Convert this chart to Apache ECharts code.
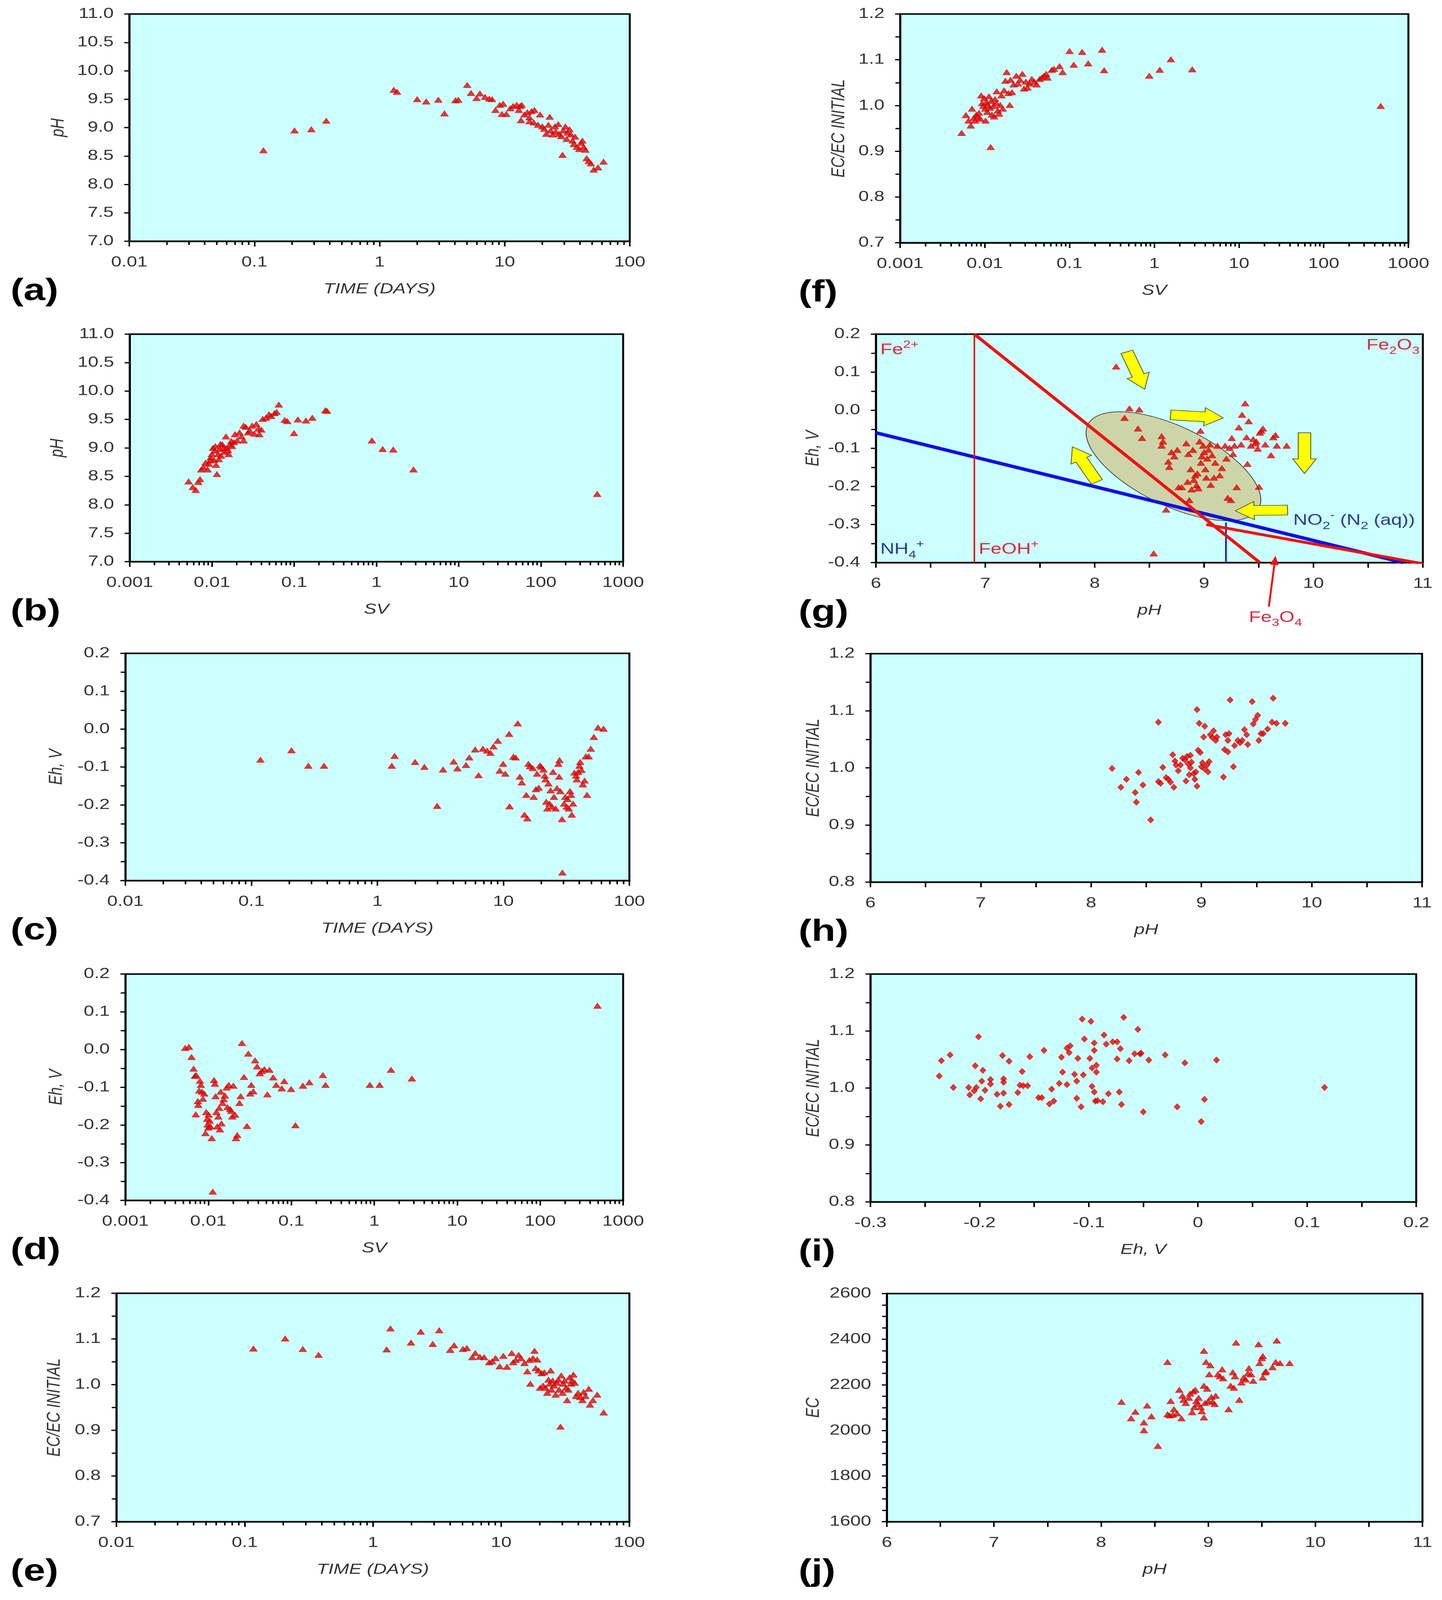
<!DOCTYPE html>
<html><head><meta charset="utf-8">
<script src="https://cdn.jsdelivr.net/npm/echarts@6/dist/echarts.min.js"></script>
<style>html,body{margin:0;padding:0;background:#fff;overflow:hidden}#c{width:3691px;height:5253px;transform-origin:0 0}</style>
</head><body><div id="c"></div>
<script>
// ---------------- DATA ----------------
// (a) time (days) vs pH
const ptsA = [[0.118,8.60],[0.209,8.95],[0.285,8.97],[0.375,9.12],[1.30,9.665],[1.38,9.63],[2.00,9.50],[2.36,9.46],[2.95,9.49],[3.30,9.25],[4.04,9.48],[4.26,9.49],[5.02,9.75],[5.38,9.61],[5.96,9.52],[6.34,9.60],[6.97,9.54],[7.53,9.51],[7.94,9.50],[8.45,9.31],[9.14,9.40],[9.73,9.42],[9.51,9.24],[10.3,9.24],[11.1,9.34],[11.7,9.38],[12.5,9.40],[13.3,9.38],[13.7,9.40],[13.0,9.31],[13.5,9.13],[14.4,9.23],[15.2,9.27],[15.8,9.18],[16.4,9.29],[17.3,9.31],[15.8,9.11],[17.1,9.09],[18.5,9.05],[19.2,9.23],[20.0,9.02],[20.7,8.98],[21.5,8.89],[22.9,9.19],[22.4,9.05],[23.3,8.95],[24.2,8.88],[25.2,9.02],[25.6,8.93],[26.8,9.06],[27.2,8.89],[28.3,8.85],[29.0,8.52],[29.4,8.95],[30.6,9.02],[31.3,8.80],[31.8,8.91],[33.0,8.97],[33.9,8.88],[34.9,8.77],[35.7,8.71],[36.6,8.84],[37.8,8.66],[39.5,8.62],[40.8,8.73],[41.8,8.77],[42.8,8.66],[44.2,8.61],[45.2,8.46],[47.0,8.41],[48.9,8.37],[51.5,8.26],[55.7,8.30],[61.7,8.40]];
// (b) SV vs pH
const ptsB = [[0.0052,8.41],[0.00585,8.31],[0.00635,8.26],[0.00682,8.40],[0.00716,8.45],[0.00742,8.62],[0.00787,8.66],[0.00835,8.74],[0.00885,8.62],[0.00918,8.72],[0.00964,8.83],[0.00998,8.89],[0.0103,9.00],[0.0106,8.79],[0.0110,9.03],[0.0115,8.54],[0.0119,8.89],[0.0124,8.98],[0.0129,8.86],[0.0134,9.06],[0.0142,8.93],[0.0148,9.20],[0.0151,9.00],[0.0160,8.89],[0.0166,9.06],[0.0176,9.03],[0.0185,9.10],[0.0191,9.24],[0.0203,9.13],[0.0216,9.27],[0.0229,9.20],[0.0243,9.13],[0.0243,9.39],[0.0258,9.37],[0.0274,9.27],[0.0290,9.30],[0.0308,9.39],[0.0327,9.25],[0.0347,9.42],[0.0367,9.34],[0.0377,9.24],[0.0399,9.32],[0.0414,9.51],[0.0455,9.53],[0.0494,9.59],[0.0525,9.56],[0.0577,9.61],[0.0612,9.63],[0.0650,9.76],[0.0767,9.49],[0.0824,9.47],[0.0995,9.26],[0.111,9.50],[0.139,9.48],[0.166,9.53],[0.239,9.66],[0.251,9.65],[0.881,9.13],[1.19,8.98],[1.60,8.97],[2.82,8.62],[484,8.19],[0.0095,8.78],[0.0108,8.95],[0.0121,8.80],[0.0138,9.00],[0.0157,8.96],[0.0172,9.12],[0.0112,8.70],[0.0127,9.07]];
// (c) time vs Eh
const ptsC = [[0.118,-0.081],[0.208,-0.056],[0.283,-0.097],[0.377,-0.097],[1.30,-0.097],[1.37,-0.071],[1.99,-0.087],[2.36,-0.100],[2.98,-0.203],[3.32,-0.107],[4.03,-0.086],[4.32,-0.104],[5.05,-0.095],[5.36,-0.075],[5.97,-0.054],[6.35,-0.122],[6.87,-0.052],[7.43,-0.057],[7.89,-0.063],[8.34,-0.046],[9.02,-0.031],[9.35,-0.110],[9.95,-0.092],[10.35,-0.118],[11.1,-0.013],[11.2,-0.204],[12.0,-0.073],[12.5,-0.075],[13.0,0.015],[13.5,-0.126],[14.0,-0.141],[14.7,-0.226],[15.2,-0.174],[15.5,-0.236],[15.8,-0.092],[16.3,-0.098],[17.1,-0.103],[17.4,-0.179],[18.1,-0.159],[18.5,-0.118],[19.1,-0.155],[19.5,-0.096],[20.0,-0.100],[20.8,-0.107],[21.3,-0.123],[21.6,-0.133],[21.9,-0.192],[22.3,-0.210],[22.8,-0.144],[23.3,-0.197],[23.7,-0.162],[24.3,-0.205],[24.8,-0.113],[25.2,-0.179],[26.0,-0.210],[26.6,-0.156],[27.3,-0.092],[27.7,-0.126],[27.9,-0.082],[28.3,-0.164],[29.2,-0.238],[29.4,-0.379],[30.3,-0.197],[31.0,-0.179],[31.8,-0.205],[32.3,-0.185],[33.0,-0.210],[33.8,-0.164],[34.4,-0.174],[34.9,-0.226],[35.7,-0.197],[36.6,-0.115],[37.7,-0.123],[38.3,-0.133],[39.2,-0.113],[40.1,-0.097],[40.7,-0.087],[41.7,-0.108],[42.7,-0.146],[44.1,-0.136],[45.1,-0.072],[46.1,-0.174],[47.5,-0.072],[49.4,-0.052],[52.2,-0.021],[56.4,0.004],[62.4,0.001]];
// (d) SV vs Eh
const ptsD = [[0.00525,0.004],[0.00583,0.007],[0.00627,-0.020],[0.00664,-0.051],[0.00689,-0.070],[0.00713,-0.068],[0.00705,-0.172],[0.00746,-0.137],[0.00755,-0.147],[0.00774,-0.109],[0.00793,-0.083],[0.00811,-0.094],[0.00839,-0.112],[0.00861,-0.131],[0.00891,-0.117],[0.00923,-0.222],[0.00944,-0.166],[0.00968,-0.184],[0.00979,-0.199],[0.0100,-0.207],[0.0101,-0.173],[0.0104,-0.189],[0.0106,-0.204],[0.0110,-0.235],[0.0113,-0.377],[0.0117,-0.081],[0.0120,-0.091],[0.0122,-0.124],[0.0125,-0.166],[0.0128,-0.204],[0.0132,-0.178],[0.0135,-0.155],[0.0138,-0.212],[0.0141,-0.112],[0.0144,-0.196],[0.0148,-0.142],[0.0153,-0.132],[0.0158,-0.122],[0.0166,-0.101],[0.0170,-0.153],[0.0176,-0.094],[0.0183,-0.158],[0.0189,-0.163],[0.0194,-0.178],[0.0200,-0.096],[0.0210,-0.173],[0.0215,-0.235],[0.0223,-0.227],[0.0237,-0.142],[0.0245,-0.124],[0.0254,0.017],[0.0269,-0.073],[0.0292,-0.203],[0.0303,-0.011],[0.0318,-0.117],[0.0329,-0.094],[0.0348,-0.111],[0.0366,-0.029],[0.0387,-0.045],[0.0416,-0.063],[0.0442,-0.057],[0.0473,-0.052],[0.0514,-0.119],[0.0544,-0.054],[0.0605,-0.074],[0.0658,-0.094],[0.0767,-0.103],[0.0822,-0.084],[0.0993,-0.105],[0.112,-0.201],[0.138,-0.096],[0.165,-0.087],[0.240,-0.068],[0.258,-0.094],[0.885,-0.094],[1.16,-0.094],[1.59,-0.054],[2.84,-0.077],[490,0.116]];
// (e) time vs EC/EC initial
const ptsE = [[0.117,1.079],[0.207,1.101],[0.284,1.078],[0.377,1.065],[1.28,1.077],[1.37,1.123],[1.98,1.092],[2.36,1.116],[2.93,1.089],[3.29,1.119],[4.01,1.076],[4.30,1.086],[5.04,1.078],[5.40,1.080],[5.96,1.060],[6.28,1.069],[6.82,1.061],[7.36,1.060],[8.07,1.049],[8.51,1.051],[9.04,1.058],[9.75,1.040],[10.4,1.063],[11.1,1.039],[12.1,1.069],[12.4,1.049],[13.0,1.054],[13.7,1.065],[14.3,1.058],[15.2,1.047],[16.0,1.029],[16.6,1.054],[16.9,1.002],[17.7,1.058],[18.2,1.074],[18.6,1.036],[19.1,1.055],[19.6,1.031],[20.1,0.993],[20.7,1.025],[21.2,0.998],[21.7,1.027],[22.2,0.993],[22.9,0.982],[23.4,1.011],[23.9,1.002],[24.3,1.031],[24.7,0.989],[25.2,1.009],[25.8,0.998],[26.6,0.978],[27.2,1.004],[27.9,1.011],[28.3,0.989],[29.0,0.908],[29.4,1.020],[30.1,0.982],[30.5,1.002],[31.3,1.009],[32.0,0.993],[32.7,0.966],[33.4,0.989],[34.2,1.016],[35.0,1.002],[35.8,1.009],[36.6,1.022],[37.5,1.004],[38.4,0.975],[39.8,0.982],[41.4,0.973],[43.0,0.966],[44.0,0.984],[45.4,0.975],[48.2,0.991],[49.3,0.956],[52.0,0.966],[56.1,0.978],[63.0,0.939]];
// (f) SV vs EC/EC initial
const ptsF = [[0.00532,0.940],[0.00598,0.979],[0.00643,0.967],[0.00682,0.956],[0.00706,0.993],[0.00741,0.973],[0.00767,0.967],[0.00794,0.980],[0.00824,0.976],[0.00853,0.984],[0.00883,0.971],[0.00906,1.022],[0.00927,1.005],[0.00959,0.999],[0.00982,1.016],[0.0101,0.993],[0.0102,0.967],[0.0104,1.007],[0.0107,0.986],[0.0109,1.001],[0.0112,1.020],[0.0115,0.995],[0.0117,0.909],[0.0119,1.010],[0.0121,0.980],[0.0126,0.999],[0.0129,0.976],[0.0132,1.014],[0.0137,1.005],[0.0138,1.031],[0.0142,0.989],[0.0147,0.982],[0.0152,1.001],[0.0157,1.022],[0.0163,0.993],[0.0169,1.033],[0.0175,1.054],[0.0181,1.073],[0.0190,1.027],[0.0197,1.001],[0.0201,1.056],[0.0209,1.029],[0.0219,1.046],[0.0235,1.065],[0.0246,1.048],[0.0261,1.056],[0.0277,1.069],[0.0290,1.037],[0.0305,1.052],[0.0319,1.039],[0.0338,1.048],[0.0359,1.058],[0.0385,1.052],[0.0408,1.046],[0.0444,1.058],[0.0471,1.061],[0.0499,1.065],[0.0530,1.069],[0.0548,1.061],[0.0617,1.078],[0.0655,1.080],[0.0762,1.086],[0.0828,1.073],[0.100,1.119],[0.112,1.089],[0.141,1.117],[0.166,1.092],[0.242,1.122],[0.256,1.077],[0.873,1.065],[1.16,1.078],[1.57,1.101],[2.81,1.079],[471,0.999]];
// (g) pH vs Eh
const ptsG = [[8.196,0.115],[8.318,0.005],[8.408,0.002],[8.273,-0.020],[8.396,-0.048],[8.433,-0.073],[8.539,-0.376],[8.612,-0.068],[8.624,-0.082],[8.612,-0.093],[8.653,-0.261],[8.673,-0.135],[8.682,-0.149],[8.702,-0.110],[8.727,-0.121],[8.755,-0.104],[8.767,-0.202],[8.796,-0.202],[8.837,-0.087],[8.849,-0.188],[8.857,-0.115],[8.865,-0.236],[8.878,-0.155],[8.886,-0.208],[8.898,-0.104],[8.906,-0.183],[8.918,-0.171],[8.931,-0.197],[8.939,-0.166],[8.947,-0.205],[8.959,-0.082],[8.967,-0.054],[8.971,-0.138],[8.980,-0.121],[8.992,-0.093],[9.000,-0.110],[9.012,-0.155],[9.020,-0.177],[9.029,-0.127],[9.041,-0.104],[9.053,-0.090],[9.061,-0.196],[9.073,-0.118],[9.090,-0.177],[9.102,-0.138],[9.122,-0.093],[9.143,-0.171],[9.163,-0.152],[9.192,-0.093],[9.204,-0.127],[9.216,-0.230],[9.233,-0.099],[9.245,-0.236],[9.253,-0.073],[9.265,-0.115],[9.278,-0.093],[9.298,-0.202],[9.318,-0.045],[9.339,-0.090],[9.347,-0.012],[9.376,0.018],[9.388,-0.071],[9.396,-0.141],[9.408,-0.029],[9.429,-0.093],[9.449,-0.076],[9.469,-0.087],[9.478,-0.082],[9.490,-0.101],[9.502,-0.201],[9.510,-0.059],[9.522,-0.054],[9.539,-0.048],[9.559,-0.090],[9.612,-0.118],[9.633,-0.071],[9.653,-0.065],[9.665,-0.093],[9.755,-0.093]];
// (g) stability-field boundaries
const redVertG = [[6.9,0.2],[6.9,-0.4]];
const redDiagG = [[6.9,0.2],[9.51,-0.4]];
const redLowG = [[9.02,-0.300],[11,-0.403]];
const blueDiagG = [[6,-0.059],[10.82,-0.4]];
const blueVertG = [[9.2,-0.295],[9.2,-0.4]];
// (g) annotation arrows: [tail, tip]
const arrowsG = [[[8.294,0.1535],[8.457,0.0555]],[[8.694,-0.012],[9.175,-0.020]],[[9.918,-0.059],[9.918,-0.166]],[[9.763,-0.262],[9.286,-0.264]],[[8.02,-0.188],[7.796,-0.096]]];
const fe3o4ArrowG = [[9.592,-0.516],[9.653,-0.382]];
// (g) ellipse: centre and conjugate semi-axes (data units)
const ellipseG = {cx:8.72, cy:-0.147, ux:0.757, uy:-0.1196, vx:-0.255, vy:-0.0786};
// (h) pH vs EC/EC initial
const ptsH = [[8.19,0.999],[8.27,0.966],[8.32,0.980],[8.40,0.957],[8.41,0.940],[8.43,0.992],[8.47,0.970],[8.54,0.909],[8.61,1.080],[8.61,0.976],[8.63,0.973],[8.65,1.001],[8.68,0.983],[8.70,0.980],[8.72,0.975],[8.74,1.023],[8.75,0.966],[8.76,1.012],[8.77,1.005],[8.79,0.995],[8.81,1.005],[8.83,1.017],[8.85,1.014],[8.86,0.977],[8.87,1.020],[8.88,1.007],[8.89,0.988],[8.90,1.022],[8.90,1.000],[8.91,1.010],[8.93,0.990],[8.94,0.980],[8.95,0.993],[8.96,0.968],[8.96,1.102],[8.97,1.031],[8.98,1.078],[8.99,1.027],[9.00,1.002],[9.01,1.009],[9.02,1.054],[9.03,1.073],[9.03,0.998],[9.05,1.005],[9.06,0.993],[9.07,1.011],[9.08,1.058],[9.10,1.053],[9.11,1.065],[9.13,1.048],[9.14,1.054],[9.20,0.984],[9.21,1.032],[9.22,1.058],[9.24,1.028],[9.24,1.048],[9.25,1.060],[9.26,1.119],[9.29,1.002],[9.30,1.039],[9.33,1.048],[9.35,1.044],[9.37,1.048],[9.39,1.067],[9.41,1.058],[9.42,1.041],[9.46,1.116],[9.47,1.077],[9.49,1.085],[9.51,1.092],[9.52,1.048],[9.54,1.060],[9.56,1.060],[9.60,1.068],[9.64,1.080],[9.65,1.122],[9.68,1.078],[9.76,1.078]];
// (i) Eh vs EC/EC initial
const ptsI = [[-0.237,1.021],[-0.235,1.048],[-0.227,1.058],[-0.224,1.001],[-0.210,1.001],[-0.209,0.988],[-0.205,0.995],[-0.204,1.039],[-0.203,1.001],[-0.201,1.090],[-0.199,0.981],[-0.198,1.012],[-0.197,1.031],[-0.195,0.996],[-0.190,1.015],[-0.190,1.007],[-0.184,0.989],[-0.181,0.968],[-0.179,1.057],[-0.178,1.016],[-0.178,1.010],[-0.178,0.991],[-0.173,1.047],[-0.173,0.971],[-0.165,0.992],[-0.163,1.005],[-0.161,1.029],[-0.160,1.004],[-0.156,1.004],[-0.154,1.055],[-0.146,0.983],[-0.143,0.983],[-0.141,1.066],[-0.136,0.972],[-0.134,0.998],[-0.132,0.977],[-0.127,1.008],[-0.125,1.054],[-0.124,1.028],[-0.120,1.006],[-0.120,1.070],[-0.118,1.062],[-0.117,1.074],[-0.113,1.024],[-0.111,1.012],[-0.111,0.982],[-0.110,1.052],[-0.107,0.967],[-0.106,1.121],[-0.105,1.023],[-0.104,1.086],[-0.099,1.052],[-0.098,1.117],[-0.097,1.035],[-0.097,1.003],[-0.095,0.993],[-0.095,1.066],[-0.095,1.079],[-0.094,0.977],[-0.093,1.028],[-0.093,1.040],[-0.092,0.978],[-0.087,0.976],[-0.086,1.093],[-0.084,1.077],[-0.082,0.990],[-0.078,1.081],[-0.074,1.081],[-0.074,1.051],[-0.072,0.993],[-0.071,1.069],[-0.070,0.971],[-0.068,1.124],[-0.063,1.048],[-0.058,1.060],[-0.055,1.103],[-0.053,1.060],[-0.052,1.061],[-0.050,0.958],[-0.045,1.049],[-0.030,1.058],[-0.019,0.967],[-0.012,1.044],[0.003,0.941],[0.006,0.980],[0.017,1.049],[0.116,1.001]];
// (j) pH vs EC
const ptsJ = [[8.19,2125],[8.28,2053],[8.32,2082],[8.40,2035],[8.40,2001],[8.43,2109],[8.47,2062],[8.53,1932],[8.62,2300],[8.62,2071],[8.64,2066],[8.65,2129],[8.67,2069],[8.68,2093],[8.71,2075],[8.73,2178],[8.75,2053],[8.76,2152],[8.77,2134],[8.79,2120],[8.82,2143],[8.83,2161],[8.85,2080],[8.86,2171],[8.87,2102],[8.88,2178],[8.89,2129],[8.90,2116],[8.91,2143],[8.93,2102],[8.94,2084],[8.96,2196],[8.96,2057],[8.96,2349],[8.97,2120],[8.98,2300],[8.99,2183],[9.00,2129],[9.01,2246],[9.02,2286],[9.03,2147],[9.04,2125],[9.06,2116],[9.07,2152],[9.09,2246],[9.11,2237],[9.13,2268],[9.14,2228],[9.19,2093],[9.21,2196],[9.23,2255],[9.24,2187],[9.25,2237],[9.26,2385],[9.29,2134],[9.31,2210],[9.33,2232],[9.35,2223],[9.37,2250],[9.38,2273],[9.40,2246],[9.42,2217],[9.47,2378],[9.48,2295],[9.50,2317],[9.51,2326],[9.51,2232],[9.53,2255],[9.54,2259],[9.60,2277],[9.63,2300],[9.64,2394],[9.67,2295],[9.76,2295]];
// minor-tick multipliers for the log axes
const logMinorFactors = [2,3,4,5,6,7,8,9];

// ---------------- LAYOUT ----------------
const PAGE_W = 3691, PAGE_H = 5253;
// the window may be shorter than the figure: squeeze the whole figure vertically so all of it is visible
(function fit(){
  const vh = window.innerHeight || PAGE_H;
  const sy = Math.min(1, vh / PAGE_H);
  document.getElementById('c').style.transform = 'scale(1,' + sy + ')';
})();

const FONT = '"Liberation Sans", Arial, Helvetica, sans-serif';
const TXT = '#333333';
const panels = [
  {g:[331,46,1281,746],  x:{t:'log',min:0.01,max:100,name:'TIME (DAYS)'}, y:{min:7,max:11,iv:0.5,minor:0,name:'pH',gap:157,dec:1}, pts:ptsA, sym:'tri', lab:'(a)', lx:27},
  {g:[332,1097,1263,747],x:{t:'log',min:0.001,max:1000,name:'SV'}, y:{min:7,max:11,iv:0.5,minor:0,name:'pH',gap:160,dec:1}, pts:ptsB, sym:'tri', lab:'(b)', lx:27},
  {g:[321,2145,1290,746],x:{t:'log',min:0.01,max:100,name:'TIME (DAYS)'}, y:{min:-0.4,max:0.2,iv:0.1,minor:2,name:'Eh, V',gap:152,dec:1}, pts:ptsC, sym:'tri', lab:'(c)', lx:27},
  {g:[321,3198,1274,743],x:{t:'log',min:0.001,max:1000,name:'SV'}, y:{min:-0.4,max:0.2,iv:0.1,minor:2,name:'Eh, V',gap:152,dec:1}, pts:ptsD, sym:'tri', lab:'(d)', lx:27},
  {g:[298,4246,1313,750],x:{t:'log',min:0.01,max:100,name:'TIME (DAYS)'}, y:{min:0.7,max:1.2,iv:0.1,minor:2,name:'EC/EC INITIAL',gap:134,dec:1}, pts:ptsE, sym:'tri', lab:'(e)', lx:27},
  {g:[2304,46,1301,751], x:{t:'log',min:0.001,max:1000,name:'SV'}, y:{min:0.7,max:1.2,iv:0.1,minor:2,name:'EC/EC INITIAL',gap:132,dec:1}, pts:ptsF, sym:'tri', lab:'(f)', lx:2044},
  {g:[2242,1097,1400,750],x:{t:'val',min:6,max:11,iv:1,minor:2,name:'pH',dec:0}, y:{min:-0.4,max:0.2,iv:0.1,minor:2,name:'Eh, V',gap:136,dec:1}, pts:ptsG, sym:'tri', lab:'(g)', lx:2044},
  {g:[2228,2146,1412,750],x:{t:'val',min:6,max:11,iv:1,minor:2,name:'pH',dec:0}, y:{min:0.8,max:1.2,iv:0.1,minor:2,name:'EC/EC INITIAL',gap:121,dec:1}, pts:ptsH, sym:'dia', lab:'(h)', lx:2044},
  {g:[2228,3198,1397,748],x:{t:'val',min:-0.3,max:0.2,iv:0.1,minor:2,name:'Eh, V',dec:'eh'}, y:{min:0.8,max:1.2,iv:0.1,minor:2,name:'EC/EC INITIAL',gap:121,dec:1}, pts:ptsI, sym:'dia', lab:'(i)', lx:2044},
  {g:[2270,4247,1371,749],x:{t:'val',min:6,max:11,iv:1,minor:2,name:'pH',dec:0}, y:{min:1600,max:2600,iv:200,minor:4,name:'EC',gap:163,dec:0}, pts:ptsJ, sym:'tri', lab:'(j)', lx:2044}
];

function fmtDec(dec){
  return function(v){
    if (dec === 'eh') { if (Math.abs(v) < 1e-9) return '0'; return (Math.round(v*10)/10).toFixed(1); }
    let s = (Math.round(v*Math.pow(10,dec))/Math.pow(10,dec)).toFixed(dec);
    if (/^-0(\.0+)?$/.test(s)) s = s.slice(1);
    return s;
  };
}
const nameStyle = {fontSize:48, fontStyle:'italic', color:TXT, fontFamily:FONT};
const labelBase = {fontSize:48, color:TXT, fontFamily:FONT, showMinLabel:true, showMaxLabel:true};
const axLine = {show:true, onZero:false, lineStyle:{color:'#000', width:5}};

const grid = [], xAxis = [], yAxis = [], series = [], graphic = [];
panels.forEach((p, i) => {
  grid.push({left:p.g[0], top:p.g[1], width:p.g[2], height:p.g[3], show:true, backgroundColor:'#CCFFFF', borderColor:'#000', borderWidth:5, containLabel:false, outerBoundsMode:'none'});
  if (p.x.t === 'log') {
    xAxis.push({type:'log', logBase:10, gridIndex:i, min:p.x.min, max:p.x.max, name:p.x.name, nameLocation:'middle', nameGap:134, nameTextStyle:nameStyle,
      axisLine:axLine, axisTick:{show:true, length:17, lineStyle:{color:'#000', width:4}},
      axisLabel:Object.assign({margin:46, formatter:v => String(+(+v).toPrecision(6))}, labelBase),
      splitLine:{show:false}, minorTick:{show:false}, minorSplitLine:{show:false}});
  } else {
    xAxis.push({type:'value', gridIndex:i, min:p.x.min, max:p.x.max, interval:p.x.iv, name:p.x.name, nameLocation:'middle', nameGap:134, nameTextStyle:nameStyle,
      axisLine:axLine, axisTick:{show:true, length:17, lineStyle:{color:'#000', width:4}},
      minorTick:{show:true, splitNumber:p.x.minor, length:17, lineStyle:{color:'#000', width:4}},
      axisLabel:Object.assign({margin:46, formatter:fmtDec(p.x.dec)}, labelBase),
      splitLine:{show:false}, minorSplitLine:{show:false}});
  }
  yAxis.push({type:'value', gridIndex:i, min:p.y.min, max:p.y.max, interval:p.y.iv, name:p.y.name, nameLocation:'middle', nameGap:p.y.gap, nameRotate:90, nameTextStyle:nameStyle,
    axisLine:axLine, axisTick:{show:true, length:13, lineStyle:{color:'#000', width:4}},
    minorTick:{show:p.y.minor > 0, splitNumber:p.y.minor || 2, length:12, lineStyle:{color:'#000', width:4}},
    axisLabel:Object.assign({margin:40, formatter:fmtDec(p.y.dec)}, labelBase),
    splitLine:{show:false}, minorSplitLine:{show:false}});

  if (p.x.t === 'log') {
    const ticks = [];
    const d0 = Math.round(Math.log10(p.x.min)), d1 = Math.round(Math.log10(p.x.max));
    for (let d = d0; d < d1; d++) logMinorFactors.forEach(k => ticks.push([+(k*Math.pow(10,d)).toPrecision(6), p.y.min]));
    series.push({type:'custom', xAxisIndex:i, yAxisIndex:i, clip:false, silent:true, z:6, data:ticks,
      renderItem:(params, api) => {
        const c = api.coord([api.value(0), api.value(1)]);
        return {type:'line', shape:{x1:c[0], y1:c[1], x2:c[0], y2:c[1]+12}, style:{stroke:'#000', lineWidth:4}};
      }});
  }

  series.push({type:'scatter', xAxisIndex:i, yAxisIndex:i, data:p.pts, z:10,
    symbol: p.sym === 'tri' ? 'triangle' : 'diamond',
    symbolSize: p.sym === 'tri' ? [20,18] : [16,21],
    itemStyle:{color:'#F20000', borderColor:'#A00000', borderWidth:1}});

  graphic.push({type:'text', x:p.lx, y:p.g[1]+p.g[3]+165, z:100,
    style:{text:p.lab, fontSize:100, fontWeight:'bold', fontFamily:FONT, fill:'#000', align:'left', verticalAlign:'middle', textAlign:'left', textVerticalAlign:'middle'}});
});

// ---- panel (g) decorations ----
const GI = 6;
const RED = '#EE1111', BLUE = '#1010E0', REDTXT = '#D8283A', BLUETXT = '#2A3C8C';
function lineSeries(pts, color, width, z){
  return {type:'line', xAxisIndex:GI, yAxisIndex:GI, data:pts, showSymbol:false, symbol:'none', silent:true, z:z,
    lineStyle:{color:color, width:width, cap:'butt'}, animation:false};
}
series.push({type:'custom', xAxisIndex:GI, yAxisIndex:GI, clip:false, silent:true, z:2, data:[[8,0]],
  renderItem:(params, api) => {
    const e = ellipseG, pts = [];
    for (let k = 0; k < 120; k++) {
      const t = k/120*2*Math.PI;
      pts.push(api.coord([e.cx + e.ux*Math.cos(t) + e.vx*Math.sin(t), e.cy + e.uy*Math.cos(t) + e.vy*Math.sin(t)]));
    }
    return {type:'polygon', shape:{points:pts}, style:{fill:'#CDD5A8', stroke:'#333', lineWidth:2}};
  }});
series.push(lineSeries(blueDiagG, BLUE, 11, 4));
series.push(lineSeries(blueVertG, BLUE, 4, 4));
series.push(lineSeries(redVertG, RED, 4, 5));
series.push(lineSeries(redDiagG, RED, 9, 5));
series.push(lineSeries(redLowG, RED, 9, 5));

function richText(txt, x, y, color, align){
  const r = {
    m:{fontSize:50, lineHeight:70, fontFamily:FONT, fill:color, color:color, verticalAlign:'middle'},
    p:{fontSize:35, lineHeight:35, fontFamily:FONT, fill:color, color:color, verticalAlign:'top'},
    b:{fontSize:35, lineHeight:35, fontFamily:FONT, fill:color, color:color, verticalAlign:'bottom'}
  };
  return {type:'text', z2:50, style:{text:txt, x:x, y:y, rich:r, fill:color, font:'50px '+FONT,
    align:align, verticalAlign:'middle', textAlign:align, textVerticalAlign:'middle'}};
}

series.push({type:'custom', xAxisIndex:GI, yAxisIndex:GI, clip:false, silent:true, z:8, data:[[8,0]],
  renderItem:(params, api) => {
    const children = [];
    const SW = 32, HW = 60, HL = 48;
    arrowsG.forEach(a => {
      const p0 = api.coord(a[0]), p1 = api.coord(a[1]);
      const dx = p1[0]-p0[0], dy = p1[1]-p0[1], L = Math.hypot(dx, dy);
      const ux = dx/L, uy = dy/L, nx = -uy, ny = ux;
      const bx = p1[0]-ux*HL, by = p1[1]-uy*HL;
      const pts = [
        [p0[0]+nx*SW/2, p0[1]+ny*SW/2], [bx+nx*SW/2, by+ny*SW/2], [bx+nx*HW/2, by+ny*HW/2],
        [p1[0], p1[1]],
        [bx-nx*HW/2, by-ny*HW/2], [bx-nx*SW/2, by-ny*SW/2], [p0[0]-nx*SW/2, p0[1]-ny*SW/2]
      ];
      children.push({type:'polygon', shape:{points:pts}, style:{fill:'#FFFF00', stroke:'#4A4A30', lineWidth:2}});
    });
    const q0 = api.coord(fe3o4ArrowG[0]), q1 = api.coord(fe3o4ArrowG[1]);
    const ddx = q1[0]-q0[0], ddy = q1[1]-q0[1], LL = Math.hypot(ddx, ddy);
    const vx = ddx/LL, vy = ddy/LL, mx = -vy, my = vx;
    const hb = [q1[0]-vx*30, q1[1]-vy*30];
    children.push({type:'line', shape:{x1:q0[0], y1:q0[1], x2:hb[0], y2:hb[1]}, style:{stroke:RED, lineWidth:5}});
    children.push({type:'polygon', shape:{points:[[q1[0],q1[1]],[hb[0]+mx*11,hb[1]+my*11],[hb[0]-mx*11,hb[1]-my*11]]}, style:{fill:RED}});
    let c;
    c = api.coord([6.04, 0.158]); children.push(richText('{m|Fe}{p|2+}', c[0], c[1], REDTXT, 'left'));
    c = api.coord([10.97, 0.170]); children.push(richText('{m|Fe}{b|2}{m|O}{b|3}', c[0], c[1], REDTXT, 'right'));
    c = api.coord([6.04, -0.366]); children.push(richText('{m|NH}{b|4}{p|+}', c[0], c[1], BLUETXT, 'left'));
    c = api.coord([6.94, -0.366]); children.push(richText('{m|FeOH}{p|+}', c[0], c[1], REDTXT, 'left'));
    c = api.coord([9.815, -0.290]); children.push(richText('{m|NO}{b|2}{p|-}{m| (N}{b|2}{m| (aq))}', c[0], c[1], BLUETXT, 'left'));
    c = api.coord([9.41, -0.545]); children.push(richText('{m|Fe}{b|3}{m|O}{b|4}', c[0], c[1], REDTXT, 'left'));
    return {type:'group', children:children};
  }});

const chart = echarts.init(document.getElementById('c'), null, {renderer:'canvas', width:PAGE_W, height:PAGE_H});
chart.setOption({
  animation:false,
  backgroundColor:'#FFFFFF',
  textStyle:{fontFamily:FONT},
  grid:grid, xAxis:xAxis, yAxis:yAxis, series:series, graphic:graphic
});
</script></body></html>
